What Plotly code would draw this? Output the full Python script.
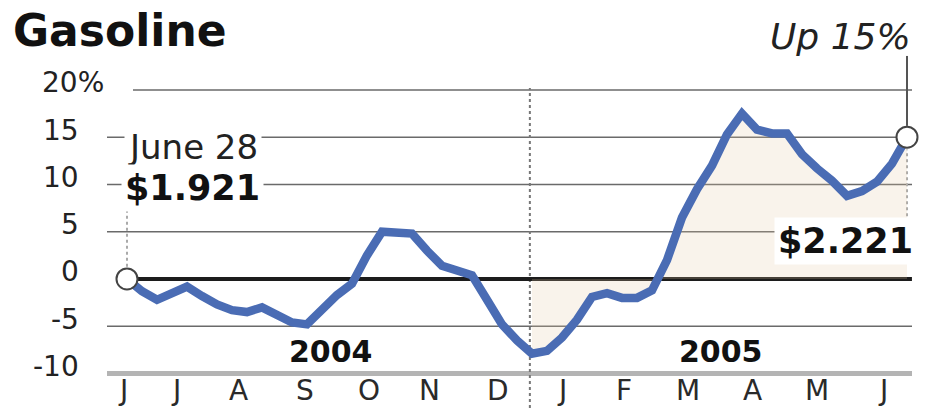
import pandas as pd
import plotly.graph_objects as go

# Weekly gasoline price, % change since June 28, 2004
start_date = "2004-06-28"
n_weeks = 53
pct_change = [
    0.0, -1.3, -2.2, -1.5, -0.8, -1.8, -2.7, -3.3, -3.5, -3.0,
    -3.8, -4.6, -4.8, -3.2, -1.7, -0.5, 2.5, 5.0, 5.0, 4.8,
    3.0, 1.4, 0.9, 0.4, -2.2, -4.8, -6.5, -7.9, -7.6, -6.2,
    -4.3, -1.9, -1.5, -2.0, -2.0, -1.2, 2.0, 6.5, 9.5, 12.0,
    15.3, 17.5, 15.8, 15.4, 15.4, 13.2, 11.7, 10.4, 8.8, 9.3,
    10.3, 12.2, 15.0,
]
dates = pd.date_range(start_date, periods=n_weeks, freq="7D")

year_start = "2005-01-02"
start_label_date = "June 28"
start_price = "$1.921"
end_price = "$2.221"
end_change = "Up 15%"

ytick_vals = [-10, -5, 0, 5, 10, 15, 20]
ytick_text = ["-10", "-5", "0", "5", "10", "15", "20%"]

month_ticks = ["2004-06-26", "2004-07-21", "2004-08-19", "2004-09-19", "2004-10-19",
               "2004-11-16", "2004-12-18", "2005-01-17", "2005-02-15", "2005-03-17",
               "2005-04-16", "2005-05-16", "2005-06-16"]
month_text = ["J", "J", "A", "S", "O", "N", "D", "J", "F", "M", "A", "M", "J"]

year_pos = ["2004-10-01", "2005-04-01"]
year_text = ["2004", "2005"]

BLUE = "#4a6cb4"
FONT = "DejaVu Sans"

W, H = 929, 408
ML, MR = 107, 17
PLOT_W = W - ML - MR


def px_to_paper(px):
    return (px - ML) / PLOT_W


fig = go.Figure()

# 2005 shading between the curve and zero
mask = dates >= pd.Timestamp(year_start)
fig.add_trace(go.Scatter(
    x=dates[mask], y=[v for v, m in zip(pct_change, mask) if m],
    mode="lines", line=dict(width=0), fill="tozeroy",
    fillcolor="rgba(228,200,165,0.22)", hoverinfo="skip", showlegend=False,
))

# Main line
fig.add_trace(go.Scatter(
    x=dates, y=pct_change, mode="lines",
    line=dict(color=BLUE, width=8.5, shape="linear"),
    hoverinfo="skip", showlegend=False,
))

# Open circles at both ends
fig.add_trace(go.Scatter(
    x=[dates[0], dates[-1]], y=[pct_change[0], pct_change[-1]],
    mode="markers",
    marker=dict(size=21, color="white", line=dict(color="#444444", width=2)),
    hoverinfo="skip", showlegend=False, cliponaxis=False,
))

shapes = []
# Gridlines
for v in ytick_vals:
    if v == 0:
        shapes.append(dict(type="line", xref="x", yref="y",
                           x0=dates[0], x1=dates[-1] + pd.Timedelta(days=2.3), y0=0, y1=0,
                           line=dict(color="#1c1c1c", width=4), layer="below"))
    elif v == ytick_vals[0]:
        shapes.append(dict(type="line", xref="paper", yref="y", x0=0, x1=1, y0=v, y1=v,
                           line=dict(color="#b4b4b4", width=5), layer="below"))
    else:
        x0 = px_to_paper(133) if v == ytick_vals[-1] else 0
        shapes.append(dict(type="line", xref="paper", yref="y", x0=x0, x1=1, y0=v, y1=v,
                           line=dict(color="#6a6a6a", width=1.6), layer="below"))

# New-year divider
shapes.append(dict(type="line", xref="x", yref="paper", x0=year_start, x1=year_start,
                   y0=0, y1=(408 - 88) / 408,
                   line=dict(color="#777777", width=2, dash="dot"), layer="below"))
# Leader lines to the labels
shapes.append(dict(type="line", xref="x", yref="y", x0=dates[0], x1=dates[0], y0=1.3, y1=7.9,
                   line=dict(color="#aaaaaa", width=2, dash="dot"), layer="below"))
shapes.append(dict(type="line", xref="x", yref="y", x0=dates[-1], x1=dates[-1], y0=6.0, y1=13.7,
                   line=dict(color="#aaaaaa", width=2, dash="dot"), layer="below"))
shapes.append(dict(type="line", xref="x", yref="y", x0=dates[-1], x1=dates[-1], y0=16.2, y1=23.6,
                   line=dict(color="#555555", width=2), layer="below"))

annotations = []
# Y tick labels: numbers right-aligned, the top one carries the % sign
for v, t in zip(ytick_vals, ytick_text):
    if t.endswith("%"):
        annotations.append(dict(x=px_to_paper(41), xref="paper", y=v, yref="y", text=t,
                                xanchor="left", yanchor="middle", yshift=7, showarrow=False,
                                borderpad=0,
                                font=dict(family=FONT, size=28, color="#222222")))
    else:
        annotations.append(dict(x=px_to_paper(81), xref="paper", y=v, yref="y", text=t,
                                xanchor="right", yanchor="middle", yshift=7, showarrow=False,
                                font=dict(family=FONT, size=28, color="#222222")))

# Month labels along the bottom edge
for d, t in zip(month_ticks, month_text):
    annotations.append(dict(x=d, xref="x", y=0, yref="paper", text=t, xanchor="center",
                            yanchor="bottom", showarrow=False, borderpad=0,
                            font=dict(family=FONT, size=28, color="#2a2a2a")))
# Year labels
for d, t in zip(year_pos, year_text):
    annotations.append(dict(x=d, xref="x", y=-7.7, yref="y", text="<b>%s</b>" % t,
                            xanchor="center", yanchor="middle", showarrow=False,
                            font=dict(family=FONT, size=30, color="#111111")))

# Title
annotations.append(dict(x=px_to_paper(11), xref="paper", y=1 - 31 / 408, yref="paper",
                        text="<b>Gasoline</b>", xanchor="left", yanchor="middle",
                        showarrow=False, font=dict(family=FONT, size=44, color="#111111")))

# Start / end callouts
annotations.append(dict(x=dates[0], xref="x", y=14.0, yref="y", text=start_label_date,
                        xanchor="left", yanchor="middle", showarrow=False, xshift=-3,
                        bgcolor="white", borderpad=3,
                        font=dict(family=FONT, size=34, color="#222222")))
annotations.append(dict(x=dates[0], xref="x", y=9.6, yref="y", text="<b>%s</b>" % start_price,
                        xanchor="left", yanchor="middle", showarrow=False, xshift=-6,
                        bgcolor="white", borderpad=3,
                        font=dict(family=FONT, size=35, color="#111111")))
annotations.append(dict(x=dates[-1], xref="x", y=4.0, yref="y", text="<b>%s</b>" % end_price,
                        xanchor="right", yanchor="middle", showarrow=False, xshift=10,
                        bgcolor="white", borderpad=3,
                        font=dict(family=FONT, size=35, color="#111111")))
annotations.append(dict(x=dates[-1], xref="x", y=25.7, yref="y", text="<i>%s</i>" % end_change,
                        xanchor="right", yanchor="middle", showarrow=False, xshift=6,
                        font=dict(family=FONT, size=36, color="#222222")))

fig.update_layout(
    width=W, height=H,
    margin=dict(l=ML, r=MR, t=0, b=0),
    paper_bgcolor="white", plot_bgcolor="white",
    xaxis=dict(type="date",
               range=[pd.Timestamp(start_date) - pd.Timedelta(days=9.33),
                      pd.Timestamp(start_date) + pd.Timedelta(days=366.33)],
               visible=False, showgrid=False, zeroline=False),
    yaxis=dict(range=[-13.65, 29.52], visible=False, showgrid=False, zeroline=False),
    shapes=shapes, annotations=annotations, showlegend=False,
)

fig.write_html("out.html", config={"displayModeBar": False})
